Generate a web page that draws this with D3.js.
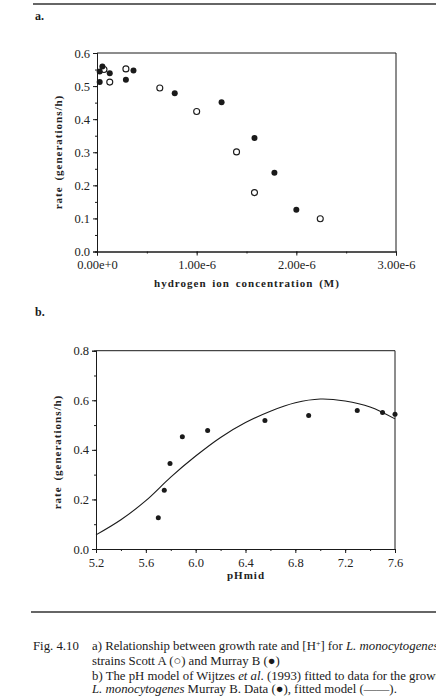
<!DOCTYPE html>
<html>
<head>
<meta charset="utf-8">
<script src="https://cdn.jsdelivr.net/npm/d3@7"></script>
<style>
  body { margin: 0; background: #fff; }
</style>
</head>
<body>
<script>
// Panel a: rate vs [H+]
const scottH = [0.07e-6, 0.128e-6, 0.29e-6, 0.63e-6, 1.0e-6, 1.4e-6, 1.58e-6, 2.24e-6];
const scottRate = [0.55, 0.512, 0.552, 0.494, 0.423, 0.301, 0.178, 0.099];
const murrayH = [0.027e-6, 0.027e-6, 0.054e-6, 0.128e-6, 0.29e-6, 0.366e-6, 0.78e-6, 1.25e-6, 1.58e-6, 1.78e-6, 2.0e-6];
const murrayRate = [0.512, 0.544, 0.559, 0.539, 0.519, 0.547, 0.478, 0.451, 0.343, 0.238, 0.126];
const hTicks = [0, 1e-6, 2e-6, 3e-6];
const hTickLabels = ["0.00e+0", "1.00e-6", "2.00e-6", "3.00e-6"];

// Panel b: rate vs pHmid
const phData = [5.70, 5.748, 5.794, 5.893, 6.096, 6.556, 6.907, 7.297, 7.50, 7.60];
const phRate = [0.126, 0.237, 0.345, 0.453, 0.478, 0.518, 0.539, 0.559, 0.551, 0.544];
const fitPh = [5.2, 5.4, 5.6, 5.8, 6.0, 6.2, 6.4, 6.6, 6.8, 7.0, 7.2, 7.4, 7.6];
const fitRate = [0.057, 0.118, 0.195, 0.29, 0.375, 0.45, 0.51, 0.556, 0.59, 0.605, 0.597, 0.573, 0.525];

const width = 436, height = 696;
const ink = "#1a1a1a";
const serif = "'Liberation Serif', 'DejaVu Serif', serif";

const svg = d3.select("body").append("svg")
  .attr("width", width).attr("height", height)
  .attr("font-family", serif);

// rules
svg.append("line").attr("x1", 33).attr("x2", width).attr("y1", 4).attr("y2", 4)
  .attr("stroke", "#333").attr("stroke-width", 1.6);
svg.append("line").attr("x1", 31).attr("x2", width).attr("y1", 612).attr("y2", 612)
  .attr("stroke", "#333").attr("stroke-width", 1.6);

svg.append("text").attr("x", 35).attr("y", 20).attr("font-weight", "bold")
  .attr("font-size", 12).attr("fill", ink).text("a.");
svg.append("text").attr("x", 35).attr("y", 316).attr("font-weight", "bold")
  .attr("font-size", 12).attr("fill", ink).text("b.");

function frame(g, x0, x1, y0, y1) {
  g.append("path")
    .attr("d", `M${x0},${y0}H${x1}V${y1}`)
    .attr("fill", "none").attr("stroke", ink).attr("stroke-width", 1);
}

function styleAxis(sel) {
  sel.attr("font-family", serif).attr("font-size", 12.5);
  sel.select(".domain").attr("stroke", ink);
  sel.selectAll(".tick line").attr("stroke", ink);
  sel.selectAll(".tick text").attr("fill", "#222");
}

function axisTitle(g) {
  return g.append("text")
    .attr("font-family", serif).attr("font-weight", "bold")
    .attr("font-size", 11).attr("letter-spacing", 1).attr("word-spacing", 2)
    .attr("fill", "#222").attr("text-anchor", "middle");
}

// ---------- Panel a ----------
const xa = d3.scaleLinear().domain([0, 3e-6]).range([97, 396]);
const ya = d3.scaleLinear().domain([0, 0.6]).range([251.5, 53]);
const ga = svg.append("g");

ga.append("g").attr("transform", "translate(0,251.5)")
  .call(d3.axisBottom(xa).tickValues(d3.range(0, 3.01e-6, 0.5e-6)).tickSize(2).tickFormat(""))
  .call(styleAxis);
ga.append("g").attr("transform", "translate(0,251.5)")
  .call(d3.axisBottom(xa).tickValues(hTicks).tickSize(4).tickPadding(5)
    .tickFormat((d, i) => hTickLabels[i]))
  .call(styleAxis);
ga.append("g").attr("transform", "translate(97,0)")
  .call(d3.axisLeft(ya).tickValues(d3.range(0, 0.601, 0.05)).tickSize(2).tickFormat(""))
  .call(styleAxis);
ga.append("g").attr("transform", "translate(97,0)")
  .call(d3.axisLeft(ya).ticks(6).tickSize(4).tickPadding(3).tickFormat(d3.format(".1f")))
  .call(styleAxis);
frame(ga, 97, 396, 53, 251.5);

ga.selectAll(".open").data(scottH).join("circle")
  .attr("cx", d => xa(d)).attr("cy", (d, i) => ya(scottRate[i])).attr("r", 3)
  .attr("fill", "#fff").attr("stroke", ink).attr("stroke-width", 1.1);
ga.selectAll(".filled").data(murrayH).join("circle")
  .attr("cx", d => xa(d)).attr("cy", (d, i) => ya(murrayRate[i])).attr("r", 3)
  .attr("fill", ink);

axisTitle(ga).attr("x", 247).attr("y", 287).text("hydrogen ion concentration (M)");
axisTitle(ga).attr("transform", "translate(62,152) rotate(-90)").text("rate (generations/h)");

// ---------- Panel b ----------
const xb = d3.scaleLinear().domain([5.2, 7.6]).range([96, 395]);
const yb = d3.scaleLinear().domain([0, 0.8]).range([549, 350.7]);
const gb = svg.append("g");

gb.append("g").attr("transform", "translate(0,549)")
  .call(d3.axisBottom(xb).tickValues(d3.range(5.2, 7.61, 0.2)).tickSize(2).tickFormat(""))
  .call(styleAxis);
gb.append("g").attr("transform", "translate(0,549)")
  .call(d3.axisBottom(xb).tickValues(d3.range(5.2, 7.61, 0.4)).tickSize(4).tickPadding(5)
    .tickFormat(d3.format(".1f")))
  .call(styleAxis);
gb.append("g").attr("transform", "translate(96,0)")
  .call(d3.axisLeft(yb).tickValues(d3.range(0, 0.81, 0.1)).tickSize(2).tickFormat(""))
  .call(styleAxis);
gb.append("g").attr("transform", "translate(96,0)")
  .call(d3.axisLeft(yb).tickValues([0, 0.2, 0.4, 0.6, 0.8]).tickSize(4).tickPadding(3)
    .tickFormat(d3.format(".1f")))
  .call(styleAxis);
frame(gb, 96, 395, 350.7, 549);

const fit = fitPh.map((p, i) => [p, fitRate[i]]);
gb.append("path").datum(fit)
  .attr("d", d3.line().x(d => xb(d[0])).y(d => yb(d[1])).curve(d3.curveCatmullRom))
  .attr("fill", "none").attr("stroke", ink).attr("stroke-width", 1.1);

gb.selectAll(".pt").data(phData).join("circle")
  .attr("cx", d => xb(d)).attr("cy", (d, i) => yb(phRate[i])).attr("r", 2.5)
  .attr("fill", ink);

axisTitle(gb).attr("x", 246).attr("y", 579).text("pHmid");
axisTitle(gb).attr("transform", "translate(61,452) rotate(-90)").text("rate (generations/h)");

// ---------- Caption ----------
const cap = svg.append("g").attr("font-size", 12.8).attr("fill", ink);
cap.append("text").attr("x", 33).attr("y", 650).text("Fig. 4.10");

const l1 = cap.append("text").attr("x", 92).attr("y", 650);
l1.append("tspan").text("a) Relationship between growth rate and [H");
l1.append("tspan").attr("font-size", 8).attr("dy", -4).text("+");
l1.append("tspan").attr("dy", 4).text("] for ");
l1.append("tspan").attr("font-style", "italic").text("L. monocytogenes");

cap.append("text").attr("x", 92).attr("y", 665).text("strains Scott A (\u25CB) and Murray B (\u25CF)");

const l3 = cap.append("text").attr("x", 92).attr("y", 680);
l3.append("tspan").text("b) The pH model of Wijtzes ");
l3.append("tspan").attr("font-style", "italic").text("et al");
l3.append("tspan").text(". (1993) fitted to data for the growth of");

const l4 = cap.append("text").attr("x", 92).attr("y", 693);
l4.append("tspan").attr("font-style", "italic").text("L. monocytogenes");
l4.append("tspan").text("  Murray B. Data (\u25CF), fitted model (\u2014\u2014).");
</script>
</body>
</html>
